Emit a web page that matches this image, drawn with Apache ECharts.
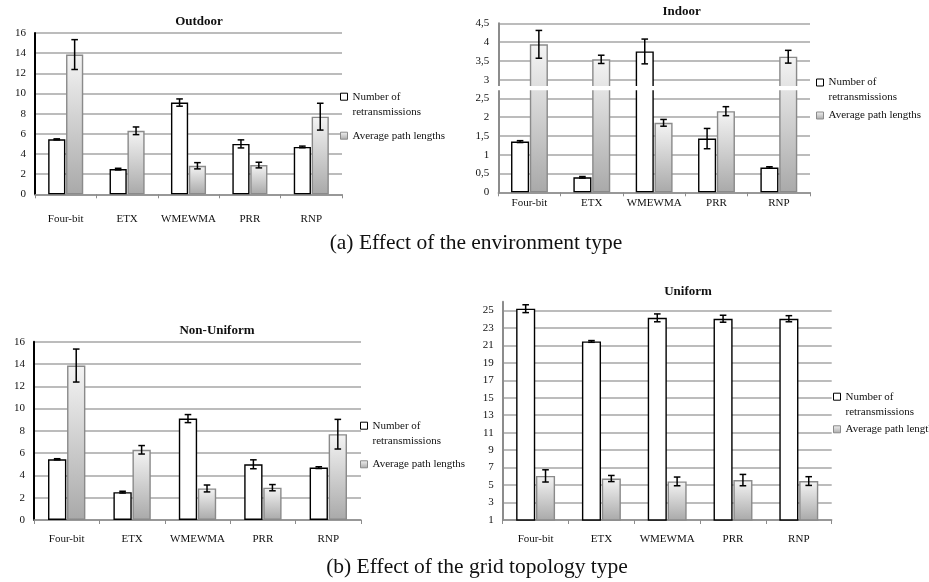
<!DOCTYPE html>
<html><head><meta charset="utf-8">
<script src="https://cdn.jsdelivr.net/npm/echarts@6/dist/echarts.min.js"></script>
<style>html,body{margin:0;padding:0;background:#fff}#c{width:929px;height:582px}</style>
</head><body><div id="c"></div>
<script>
// ---------- data ----------
const categories = ['Four-bit', 'ETX', 'WMEWMA', 'PRR', 'RNP'];
const seriesNames = ['Number of retransmissions', 'Average path lengths'];

const outdoorRetrans    = [5.45, 2.5, 9.1, 5.0, 4.7];
const outdoorRetransErr = [0.05, 0.08, 0.36, 0.4, 0.08];
const outdoorPath       = [13.86, 6.3, 2.83, 2.9, 7.7];
const outdoorPathErr    = [1.48, 0.38, 0.31, 0.28, 1.33];

const indoorRetrans    = [1.35, 0.4, 3.75, 1.43, 0.66];
const indoorRetransErr = [0.025, 0.02, 0.33, 0.27, 0.02];
const indoorPath       = [3.94, 3.54, 1.85, 2.16, 3.61];
const indoorPathErr    = [0.37, 0.11, 0.09, 0.12, 0.17];
const indoorBreak      = [2.72, 2.83];

const nonUniformRetrans    = [5.45, 2.5, 9.1, 5.0, 4.7];
const nonUniformRetransErr = [0.05, 0.08, 0.36, 0.4, 0.08];
const nonUniformPath       = [13.86, 6.3, 2.83, 2.9, 7.7];
const nonUniformPathErr    = [1.48, 0.38, 0.31, 0.28, 1.33];

const uniformRetrans    = [25.2, 21.45, 24.15, 24.05, 24.05];
const uniformRetransErr = [0.45, 0.1, 0.45, 0.4, 0.35];
const uniformPath       = [6.05, 5.75, 5.42, 5.57, 5.46];
const uniformPathErr    = [0.7, 0.35, 0.5, 0.65, 0.5];

const outdoorTicks    = [0, 2, 4, 6, 8, 10, 12, 14, 16];
const indoorTicks     = [0, 0.5, 1, 1.5, 2, 2.5, 3, 3.5, 4, 4.5];
const nonUniformTicks = [0, 2, 4, 6, 8, 10, 12, 14, 16];
const uniformTicks    = [1, 3, 5, 7, 9, 11, 13, 15, 17, 19, 21, 23, 25];

const titles = ['Outdoor', 'Indoor', 'Non-Uniform', 'Uniform'];
const captionA = '(a) Effect of the environment type';
const captionB = '(b) Effect of the grid topology type';

// ---------- layout ----------
const FF = '"Liberation Serif", "Times New Roman", serif';
const panels = [
  { retrans: outdoorRetrans, rErr: outdoorRetransErr, path: outdoorPath, pErr: outdoorPathErr, ticks: outdoorTicks,
    grid: { left: 35, top: 33, width: 307, height: 161.3 }, yMin: 0, yMax: 16, axisColor: '#000', xLabelMargin: 19,
    legend: { left: 340, top: 74.2, gap: 9 }, title: [199, 22], comma: false, barW: '28%' },
  { retrans: indoorRetrans, rErr: indoorRetransErr, path: indoorPath, pErr: indoorPathErr, ticks: indoorTicks,
    grid: { left: 498.3, top: 23.3, width: 311.7, height: 169 }, yMin: 0, yMax: 4.5, axisColor: '#8c8c8c', xLabelMargin: 5,
    legend: { left: 816, top: 60, gap: 3 }, title: [681.7, 12], comma: true, brk: indoorBreak, barW: '29%' },
  { retrans: nonUniformRetrans, rErr: nonUniformRetransErr, path: nonUniformPath, pErr: nonUniformPathErr, ticks: nonUniformTicks,
    grid: { left: 34, top: 341.7, width: 327, height: 178.3 }, yMin: 0, yMax: 16, axisColor: '#000', xLabelMargin: 14,
    legend: { left: 360, top: 403.2, gap: 8.6 }, title: [217, 330.7], comma: false, barW: '28%' },
  { retrans: uniformRetrans, rErr: uniformRetransErr, path: uniformPath, pErr: uniformPathErr, ticks: uniformTicks,
    grid: { left: 502.7, top: 301.7, width: 329, height: 218.3 }, yMin: 1, yMax: 26, axisColor: '#8c8c8c', xLabelMargin: 14,
    legend: { left: 833, top: 374.2, gap: 2.6 }, title: [688, 291.7], comma: false, barW: '29%' }
];

const BAR_GAP = 0.04;

function errRenderer(side, pct) {
  return function (params, api) {
    const x = api.value(0), lo = api.value(1), hi = api.value(2);
    const band = api.size([1, 0])[0];
    const bw = band * pct;
    const off = side * (bw + bw * BAR_GAP) / 2;
    const pLo = api.coord([x, lo]);
    const pHi = api.coord([x, hi]);
    const cx = pLo[0] + off, cap = 3.3;
    const st = { stroke: '#000', lineWidth: 1.5 };
    return { type: 'group', children: [
      { type: 'line', shape: { x1: cx, y1: pLo[1], x2: cx, y2: pHi[1] }, style: st },
      { type: 'line', shape: { x1: cx - cap, y1: pLo[1], x2: cx + cap, y2: pLo[1] }, style: st },
      { type: 'line', shape: { x1: cx - cap, y1: pHi[1], x2: cx + cap, y2: pHi[1] }, style: st }
    ] };
  };
}

const grids = [], xAxes = [], yAxes = [], series = [], legends = [], graphics = [];
const greyGrad = { type: 'linear', x: 0, y: 0, x2: 0, y2: 1,
  colorStops: [{ offset: 0, color: '#f4f4f4' }, { offset: 1, color: '#a9a9a9' }] };

panels.forEach((p, i) => {
  grids.push(Object.assign({ outerBoundsMode: 'none', containLabel: false }, p.grid));
  xAxes.push({
    type: 'category', gridIndex: i, data: categories, boundaryGap: true,
    axisLine: { show: true, lineStyle: { color: '#8c8c8c', width: 1.5 } },
    axisTick: { show: true, interval: 0, length: 4, alignWithLabel: false, lineStyle: { color: '#8c8c8c', width: 1 } },
    axisLabel: { interval: 0, margin: p.xLabelMargin, fontSize: 11, fontFamily: FF, color: '#111' },
    splitLine: { show: false }
  });
  const pct = parseFloat(p.barW) / 100;
  yAxes.push({
    type: 'value', gridIndex: i, min: p.yMin, max: p.yMax,
    axisLine: { show: true, lineStyle: { color: p.axisColor, width: 2 } },
    axisTick: { show: false, customValues: p.ticks },
    axisLabel: { customValues: p.ticks, margin: 9, fontSize: 11, fontFamily: FF, color: '#111',
      formatter: v => p.comma ? String(v).replace('.', ',') : String(v) },
    splitLine: { show: true, lineStyle: { color: '#a6a6a6', width: 1.5 } }
  });
  series.push({
    type: 'bar', name: seriesNames[0], xAxisIndex: i, yAxisIndex: i, data: p.retrans,
    barWidth: p.barW, barGap: (BAR_GAP * 100) + '%',
    itemStyle: { color: '#ffffff', borderColor: '#000', borderWidth: 1.4 }, z: 2
  });
  series.push({
    type: 'bar', name: seriesNames[1], xAxisIndex: i, yAxisIndex: i, data: p.path,
    barWidth: p.barW, barGap: (BAR_GAP * 100) + '%',
    itemStyle: { color: greyGrad, borderColor: '#8a8a8a', borderWidth: 1.4 }, z: 2
  });
  series.push({
    type: 'custom', name: 'errR' + i, xAxisIndex: i, yAxisIndex: i, z: 4,
    data: p.retrans.map((v, k) => [k, v - p.rErr[k], v + p.rErr[k]]),
    encode: { x: 0, y: [1, 2] }, renderItem: errRenderer(-1, pct), silent: true
  });
  series.push({
    type: 'custom', name: 'errP' + i, xAxisIndex: i, yAxisIndex: i, z: 4,
    data: p.path.map((v, k) => [k, v - p.pErr[k], v + p.pErr[k]]),
    encode: { x: 0, y: [1, 2] }, renderItem: errRenderer(1, pct), silent: true
  });
  if (p.brk) {
    series.push({
      type: 'custom', name: 'break' + i, xAxisIndex: i, yAxisIndex: i, z: 5, silent: true,
      data: [[0, p.brk[0], p.brk[1]]], encode: { x: 0, y: [1, 2] },
      renderItem: function (params, api) {
        const cs = params.coordSys;
        const y1 = api.coord([0, api.value(1)])[1];
        const y2 = api.coord([0, api.value(2)])[1];
        return { type: 'rect', shape: { x: cs.x - 4, y: y2, width: cs.width + 4, height: y1 - y2 }, style: { fill: '#fff' } };
      }
    });
  }
  legends.push({
    orient: 'vertical', left: p.legend.left, top: p.legend.top, itemGap: p.legend.gap, padding: 0,
    itemWidth: 7, itemHeight: 7, icon: 'rect', selectedMode: false, data: seriesNames,
    itemStyle: { borderWidth: 1 },
    formatter: n => n === seriesNames[0] ? '\nNumber of\nretransmissions' : n,
    textStyle: { fontSize: 11, fontFamily: FF, color: '#111', lineHeight: 15 }
  });
  graphics.push({
    type: 'text', x: p.title[0], y: p.title[1], z: 10,
    style: { text: titles[i], fontSize: 13, fontWeight: 'bold', fontFamily: FF, fill: '#111',
      align: 'center', verticalAlign: 'middle', textAlign: 'center', textVerticalAlign: 'middle' }
  });
});

graphics.push({
  type: 'text', x: 476, y: 243, z: 10,
  style: { text: captionA, fontSize: 21.5, fontFamily: FF, fill: '#111',
    align: 'center', verticalAlign: 'middle', textAlign: 'center', textVerticalAlign: 'middle' }
});
graphics.push({
  type: 'text', x: 477, y: 567.5, z: 10,
  style: { text: captionB, fontSize: 21.5, fontFamily: FF, fill: '#111',
    align: 'center', verticalAlign: 'middle', textAlign: 'center', textVerticalAlign: 'middle' }
});

const chart = echarts.init(document.getElementById('c'), null, { renderer: 'canvas' });
chart.setOption({
  backgroundColor: '#ffffff',
  animation: false,
  grid: grids, xAxis: xAxes, yAxis: yAxes, series: series, legend: legends,
  graphic: { elements: graphics }
});
</script></body></html>
